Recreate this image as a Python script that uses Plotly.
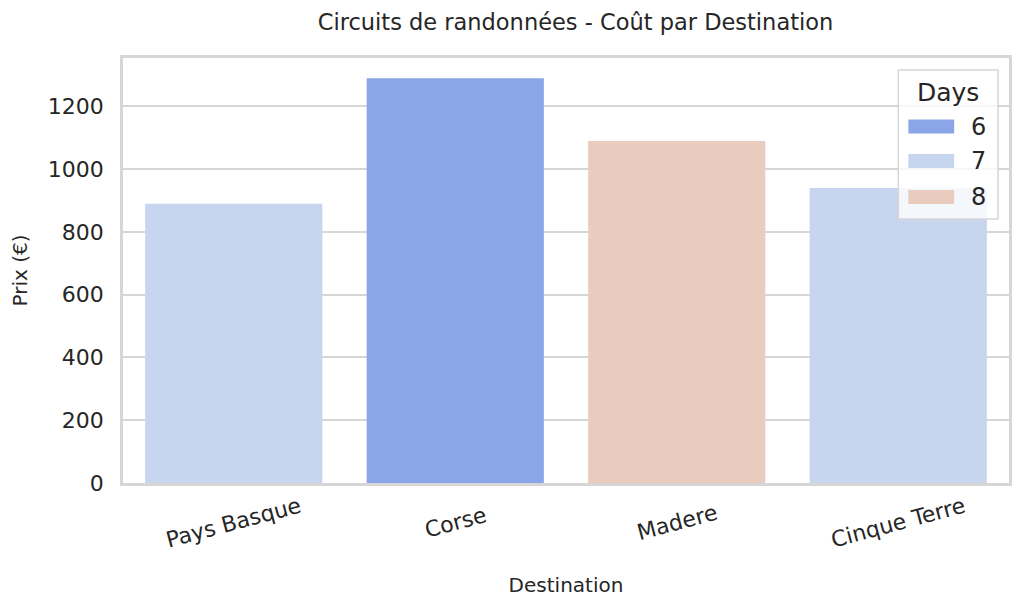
import plotly.graph_objects as go

destinations = ["Pays Basque", "Corse", "Madere", "Cinque Terre"]
prices = [890, 1290, 1090, 940]
days = [7, 6, 8, 7]
day_levels = [6, 7, 8]
day_colors = {6: "#8aa6e8", 7: "#c7d5ef", 8: "#eaccbe"}

grid = "#d6d6d6"
txt = "#262626"

fig = go.Figure()
for d in day_levels:
    xs = [dest for dest, dd in zip(destinations, days) if dd == d]
    ys = [p for p, dd in zip(prices, days) if dd == d]
    fig.add_trace(go.Bar(x=xs, y=ys, name=str(d), marker_color=day_colors[d],
                         marker_line_width=0, width=0.8, showlegend=False))

# rotated category labels, centred under each bar (like matplotlib rotation=15)
for dest in destinations:
    fig.add_annotation(x=dest, xref="x", y=0, yref="paper", yshift=-39,
                       text=dest, textangle=-15, showarrow=False,
                       xanchor="center", yanchor="middle",
                       font=dict(size=22, color=txt))

# seaborn-like legend box (wide rectangular swatches)
fig.add_shape(type="rect", xref="paper", yref="paper", x0=0.8751, x1=0.9876,
              y0=0.6212, y1=0.9718, fillcolor="rgba(255,255,255,0.8)",
              line=dict(color=grid, width=1.5))
fig.add_annotation(x=0.9314, y=0.918, xref="paper", yref="paper", text="Days",
                   showarrow=False, xanchor="center", yanchor="middle",
                   font=dict(size=25, color=txt))
row_y = [0.8388, 0.7576, 0.6729]
for d, ry in zip(day_levels, row_y):
    fig.add_shape(type="rect", xref="paper", yref="paper", x0=0.8864, x1=0.9381,
                  y0=ry - 0.0165, y1=ry + 0.0165, fillcolor=day_colors[d], line_width=0)
    fig.add_annotation(x=0.9764, y=ry, xref="paper", yref="paper", text=str(d),
                       showarrow=False, xanchor="right", yanchor="middle",
                       font=dict(size=24, color=txt))

# page body has 8px margin, so the figure is 1008x592
fig.update_layout(
    width=1008, height=592,
    barmode="overlay",
    plot_bgcolor="white", paper_bgcolor="white",
    font=dict(family="DejaVu Sans", color=txt),
    margin=dict(l=115, r=4, t=50, b=117),
    title=dict(text="Circuits de randonnées - Coût par Destination", x=0.563, xanchor="center",
               y=0.976, yanchor="middle", font=dict(size=22.5, color=txt)),
    showlegend=False,
)
fig.update_xaxes(categoryorder="array", categoryarray=destinations, range=[-0.5, 3.5],
                 showticklabels=False,
                 title=dict(text="Destination", font=dict(size=20, color=txt), standoff=94),
                 showline=True, linecolor=grid, linewidth=2.5, mirror=True,
                 showgrid=False, ticks="")
fig.update_yaxes(range=[0, 1354.5], tickvals=[0, 200, 400, 600, 800, 1000, 1200],
                 tickfont=dict(size=22, color=txt), ticklabelstandoff=12,
                 title=dict(text="Prix (€)", font=dict(size=20, color=txt), standoff=20),
                 showline=True, linecolor=grid, linewidth=2.5, mirror=True,
                 showgrid=True, gridcolor=grid, gridwidth=2, zeroline=False, ticks="")
fig.write_html("out.html")
